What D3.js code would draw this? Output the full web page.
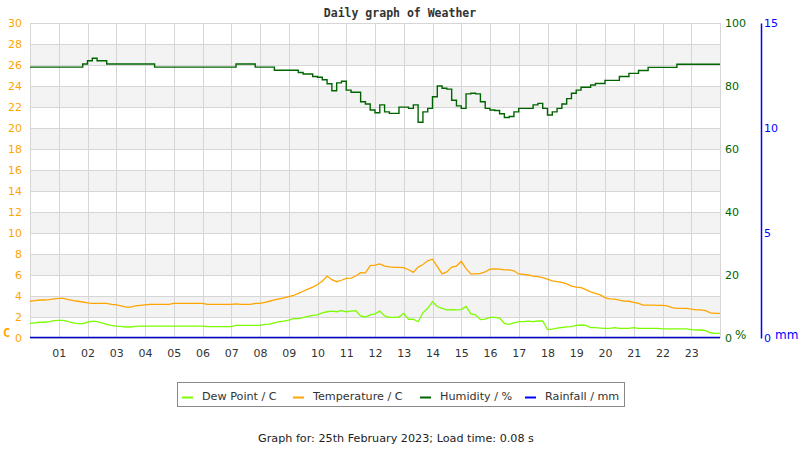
<!DOCTYPE html>
<html><head><meta charset="utf-8">
<script src="https://cdn.jsdelivr.net/npm/d3@7"></script>
<style>body{margin:0;background:#fff}svg{display:block}</style>
</head><body>
<svg id="c" width="800" height="450"></svg>
<script>
// ---- data ----
const times = [
"00:00","00:10","00:20","00:30","00:40","00:50",
"01:00","01:10","01:20","01:30","01:40","01:50",
"02:00","02:10","02:20","02:30","02:40","02:50",
"03:00","03:10","03:20","03:30","03:40","03:50",
"04:00","04:10","04:20","04:30","04:40","04:50",
"05:00","05:10","05:20","05:30","05:40","05:50",
"06:00","06:10","06:20","06:30","06:40","06:50",
"07:00","07:10","07:20","07:30","07:40","07:50",
"08:00","08:10","08:20","08:30","08:40","08:50",
"09:00","09:10","09:20","09:30","09:40","09:50",
"10:00","10:10","10:20","10:30","10:40","10:50",
"11:00","11:10","11:20","11:30","11:40","11:50",
"12:00","12:10","12:20","12:30","12:40","12:50",
"13:00","13:10","13:20","13:30","13:40","13:50",
"14:00","14:10","14:20","14:30","14:40","14:50",
"15:00","15:10","15:20","15:30","15:40","15:50",
"16:00","16:10","16:20","16:30","16:40","16:50",
"17:00","17:10","17:20","17:30","17:40","17:50",
"18:00","18:10","18:20","18:30","18:40","18:50",
"19:00","19:10","19:20","19:30","19:40","19:50",
"20:00","20:10","20:20","20:30","20:40","20:50",
"21:00","21:10","21:20","21:30","21:40","21:50",
"22:00","22:10","22:20","22:30","22:40","22:50",
"23:00","23:10","23:20","23:30","23:40","23:50",
"24:00"];

const hourLabels = ["01","02","03","04","05","06","07","08","09","10","11","12",
  "13","14","15","16","17","18","19","20","21","22","23"];
const tempTicks = [0,2,4,6,8,10,12,14,16,18,20,22,24,26,28,30];
const humTicks = [0,20,40,60,80,100];
const rainTicks = [0,5,10,15];

const temperature = [
3.5,3.55,3.62,3.62,3.65,3.72,3.78,3.78,3.65,3.55,
3.5,3.43,3.35,3.3,3.3,3.3,3.3,3.2,3.15,3.05,
2.95,2.95,3.05,3.11,3.15,3.2,3.2,3.2,3.2,3.2,
3.3,3.3,3.3,3.3,3.3,3.3,3.3,3.2,3.2,3.2,
3.2,3.2,3.2,3.25,3.2,3.2,3.2,3.3,3.3,3.4,
3.5,3.62,3.72,3.82,3.95,4.05,4.25,4.45,4.65,4.85,
5.1,5.4,5.9,5.55,5.36,5.5,5.68,5.7,5.9,6.22,
6.2,6.9,6.95,7.05,6.85,6.78,6.73,6.73,6.7,6.5,
6.25,6.75,7.0,7.35,7.5,6.8,6.1,6.3,6.75,6.85,
7.3,6.6,6.1,6.1,6.15,6.3,6.55,6.57,6.55,6.48,
6.48,6.4,6.1,6.06,6.0,5.9,5.84,5.75,5.6,5.45,
5.36,5.3,5.15,4.95,4.85,4.8,4.6,4.4,4.25,4.1,
3.85,3.72,3.7,3.6,3.52,3.5,3.4,3.3,3.14,3.14,
3.14,3.1,3.1,3.05,2.9,2.83,2.83,2.83,2.75,2.67,
2.67,2.6,2.4,2.35,2.35];

const dewPoint = [
1.4,1.45,1.5,1.5,1.55,1.65,1.68,1.68,1.55,1.45,
1.37,1.37,1.5,1.6,1.55,1.45,1.3,1.2,1.14,1.1,
1.05,1.05,1.1,1.14,1.14,1.14,1.14,1.14,1.14,1.14,
1.14,1.14,1.14,1.14,1.14,1.14,1.14,1.08,1.08,1.08,
1.08,1.08,1.08,1.2,1.2,1.2,1.2,1.2,1.2,1.3,
1.33,1.45,1.55,1.6,1.7,1.84,1.84,1.95,2.05,2.15,
2.2,2.4,2.5,2.55,2.5,2.6,2.5,2.55,2.6,2.1,
2.0,2.2,2.3,2.56,2.1,1.97,1.97,2.0,2.35,1.78,
1.8,1.55,2.4,2.83,3.46,3.0,2.83,2.67,2.7,2.67,
2.7,3.0,2.3,2.2,1.75,1.8,1.97,1.97,1.9,1.4,
1.3,1.45,1.56,1.56,1.6,1.56,1.62,1.62,0.8,0.85,
0.95,1.0,1.05,1.08,1.2,1.24,1.2,1.0,0.98,0.95,
0.92,0.92,0.98,0.92,0.92,0.92,0.98,0.92,0.92,0.92,
0.92,0.92,0.86,0.86,0.86,0.86,0.86,0.86,0.8,0.76,
0.76,0.7,0.5,0.45,0.44];

const humidity = [
86,86,86,86,86,86,86,86,86,86,
86,87,88,88.8,88,88,87,87,87,87,
87,87,87,87,87,87,86,86,86,86,
86,86,86,86,86,86,86,86,86,86,
86,86,86,87,87,87,87,86,86,86,
86,85,85,85,85,85,84.3,83.8,83.8,83,
82.8,82,80.7,78.5,81,81.5,78.7,78,78,75,
74.3,72.4,71.5,74,71.8,71.3,71.3,73.3,73.3,72.9,
74,68.5,71.8,72.9,76.6,80,79.3,79,75.5,73.7,
72.9,77.5,77.7,77.5,75,72.9,72.4,72.2,71.2,70,
70.3,71.8,72.9,72.9,72.9,74,74.5,72.9,70.8,71.8,
72.9,74.3,76,77.7,78.7,79.6,79.6,80.3,80.8,80.8,
81.8,81.8,81.8,83,83,84,84,84.9,84.9,85.9,
85.9,85.9,85.9,85.9,85.9,86.9,86.9,86.9,86.9,86.9,
86.9,86.9,86.9,86.9,86.9];

const rainHours = ["00:00","01:00","02:00","03:00","04:00","05:00","06:00","07:00",
  "08:00","09:00","10:00","11:00","12:00","13:00","14:00","15:00","16:00","17:00",
  "18:00","19:00","20:00","21:00","22:00","23:00","24:00"];
const rainfall = [0,0,0,0,0,0,0,0,0,0,0,0,0,0,0,0,0,0,0,0,0,0,0,0,0];

const legendItems = [
  {label:"Dew Point / C", color:"#7cfc00"},
  {label:"Temperature / C", color:"#ffa500"},
  {label:"Humidity / %", color:"#006400"},
  {label:"Rainfall / mm", color:"#0000ff"}
];

// ---- chart ----
const svg = d3.select("#c");
const L = 30, R = 720, T = 23, B = 338;
const toHour = s => { const p = s.split(":").map(Number); return p[0] + p[1]/60; };
const x = d3.scaleLinear().domain([0,24]).range([L,R]);
const yT = d3.scaleLinear().domain([0,30]).range([B,T]);
const yH = d3.scaleLinear().domain([0,100]).range([B,T]);
const yR = d3.scaleLinear().domain([0,15]).range([B,T]);
const FONT = "'DejaVu Sans', sans-serif";

svg.append("rect").attr("width",800).attr("height",450).attr("fill","#fff");

// bands
svg.append("g").selectAll("rect")
  .data(tempTicks.filter(t => t % 4 === 2 && t < 30))
  .join("rect")
  .attr("x", L).attr("width", R - L)
  .attr("y", d => yT(d + 2)).attr("height", d => yT(d) - yT(d + 2))
  .attr("fill", "#f3f3f3");

// gridlines
svg.append("g").selectAll("line").data(tempTicks).join("line")
  .attr("x1", L).attr("x2", R)
  .attr("y1", d => Math.round(yT(d)) + 0.5).attr("y2", d => Math.round(yT(d)) + 0.5)
  .attr("stroke", "#d6d6d6").attr("stroke-width", 1);
const vHours = [0].concat(hourLabels.map(Number)).concat([24]);
svg.append("g").selectAll("line").data(vHours).join("line")
  .attr("x1", d => Math.round(x(d)) + 0.5).attr("x2", d => Math.round(x(d)) + 0.5)
  .attr("y1", T).attr("y2", B)
  .attr("stroke", "#d6d6d6").attr("stroke-width", 1);

// lines
const tHours = times.map(toHour);
const lineT = d3.line().x((d,i) => x(tHours[i])).y(d => yT(d));
const lineH = d3.line().x((d,i) => x(tHours[i])).y(d => yH(d)).curve(d3.curveStepAfter);
svg.append("path").attr("d", lineT(dewPoint)).attr("fill","none")
  .attr("stroke","#7cfc00").attr("stroke-width",1.3);
svg.append("path").attr("d", lineT(temperature)).attr("fill","none")
  .attr("stroke","#ffa500").attr("stroke-width",1.3);
svg.append("path").attr("d", lineH(humidity)).attr("fill","none")
  .attr("stroke","#006400").attr("stroke-width",1.4);
const rH = rainHours.map(toHour);
const lineR = d3.line().x((d,i) => x(rH[i])).y(d => yR(d) - 0.5);
svg.append("path").attr("d", lineR(rainfall)).attr("fill","none")
  .attr("stroke","#0000cc").attr("stroke-width",1.5);

// left axis
const gL = svg.append("g").attr("transform",`translate(${L},0)`)
  .call(d3.axisLeft(yT).tickValues(tempTicks).tickSize(0).tickPadding(8));
gL.select(".domain").remove();
gL.selectAll("text").attr("fill","#ffa500").style("font-family",FONT).style("font-size","11px");
svg.append("text").attr("x",3).attr("y",337).text("C")
  .attr("fill","#ffa500").style("font-family","'DejaVu Sans Mono', monospace")
  .style("font-weight","bold").style("font-size","12px");

// right humidity axis
const gH = svg.append("g").attr("transform",`translate(${R},0)`)
  .call(d3.axisRight(yH).tickValues(humTicks).tickSize(0).tickPadding(5));
gH.select(".domain").remove();
gH.selectAll("text").attr("fill","#006400").style("font-family",FONT).style("font-size","11px");
svg.append("text").attr("x",735).attr("y",339).text("%")
  .attr("fill","#006400").style("font-family",FONT).style("font-size","12px");

// rain axis
const RX = 761;
const gR = svg.append("g").attr("transform",`translate(${RX},0)`)
  .call(d3.axisRight(yR).tickValues(rainTicks).tickSize(0).tickSizeOuter(0).tickPadding(3));
gR.select(".domain").attr("stroke","#0000ff").attr("stroke-width",1.5);
gR.selectAll("text").attr("fill","#0000ff").style("font-family",FONT).style("font-size","11px");
svg.append("text").attr("x",775).attr("y",339).text("mm")
  .attr("fill","#0000ff").style("font-family",FONT).style("font-size","12px");

// bottom axis
const gB = svg.append("g").attr("transform",`translate(0,${B})`)
  .call(d3.axisBottom(x).tickValues(hourLabels.map(Number))
    .tickFormat((d,i) => hourLabels[i]).tickSize(0).tickPadding(11));
gB.select(".domain").remove();
gB.selectAll("text").attr("fill","#333").style("font-family",FONT).style("font-size","11px");

// title
svg.append("text").attr("x",400).attr("y",17).attr("text-anchor","middle")
  .text("Daily graph of Weather").attr("fill","#333")
  .style("font-family","'DejaVu Sans Mono', monospace").style("font-weight","bold")
  .style("font-size","11.5px");

// legend
svg.append("rect").attr("x",177.5).attr("y",382.5).attr("width",447).attr("height",24)
  .attr("fill","#fff").attr("stroke","#888");
const legX = [202, 313, 440, 545];
const lg = svg.append("g").selectAll("g").data(legendItems).join("g");
lg.append("line").attr("x1",(d,i)=>legX[i]-20).attr("x2",(d,i)=>legX[i]-9)
  .attr("y1",397.5).attr("y2",397.5).attr("stroke",d=>d.color).attr("stroke-width",2);
lg.append("text").attr("x",(d,i)=>legX[i]).attr("y",400).text(d=>d.label)
  .attr("fill","#333").style("font-family",FONT).style("font-size","11.2px");

// footer
svg.append("text").attr("x",396).attr("y",442).attr("text-anchor","middle")
  .text("Graph for: 25th February 2023; Load time: 0.08 s")
  .attr("fill","#222").style("font-family",FONT).style("font-size","11.2px");
</script>
</body></html>
